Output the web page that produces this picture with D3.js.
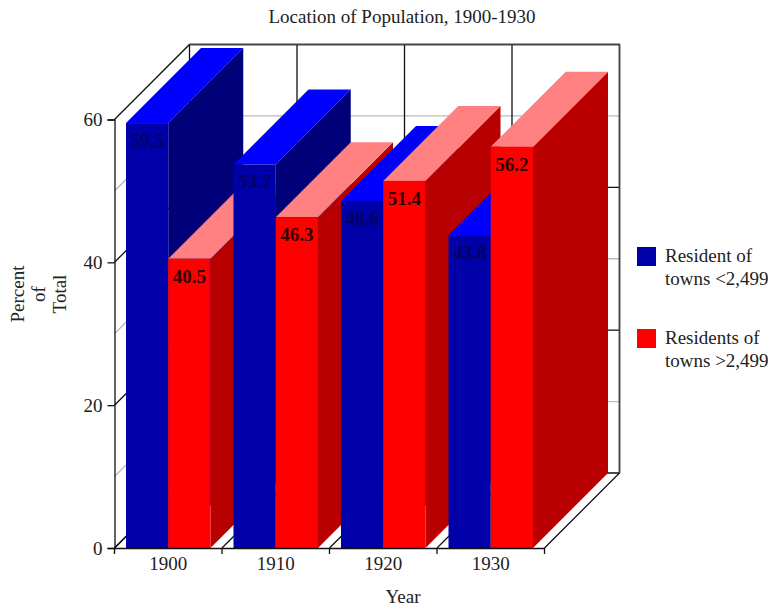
<!DOCTYPE html>
<html>
<head>
<meta charset="utf-8">
<script src="https://d3js.org/d3.v7.min.js"></script>
<style>
html, body { margin: 0; padding: 0; background: #fff; }
text { font-family: "Liberation Serif", serif; fill: #222; }
</style>
</head>
<body>
<svg id="chart" width="768" height="607" style="display:block"></svg>
<script>
const years = ["1900", "1910", "1920", "1930"];
const seriesNames = ["Resident of towns <2,499", "Residents of towns >2,499"];
const smallTowns = [59.5, 53.7, 48.6, 43.8];
const bigTowns = [40.5, 46.3, 51.4, 56.2];
const yTicks = [0, 20, 40, 60];
const yMinorTicks = [10, 30, 50];

const svg = d3.select("#chart");

// front plane of the box, the back wall is the same thing shifted by depth
const plotLeft = 114.5, plotRight = 544.5, plotBottom = 548, plotTop = 119.5;
const depth = 75;
const fontSize = 19;

const x = d3.scaleBand().domain(years).range([plotLeft, plotRight]);
const inner = d3.scaleBand().domain([0, 1]).range([11.5, x.bandwidth() - 11.5]);
const y = d3.scaleLinear().domain([0, 60]).range([plotBottom, plotTop]);

const palette = [
    {front: "#0000a8", top: "#0000ff", side: "#000078"},
    {front: "#ff0000", top: "#ff8080", side: "#b80000"}
];

// walls
const walls = svg.append("g").attr("fill", "none").attr("stroke-width", 1.3);

yMinorTicks.forEach(v => {
    walls.append("path")
        .attr("d", `M${plotLeft},${y(v)}L${plotLeft + depth},${y(v) - depth}H${plotRight + depth}`)
        .attr("stroke", "#bbb");
});
yTicks.forEach(v => {
    walls.append("path")
        .attr("d", `M${plotLeft},${y(v)}L${plotLeft + depth},${y(v) - depth}H${plotRight + depth}`)
        .attr("stroke", "#111");
});
years.concat("end").forEach((d, i) => {
    const px = plotLeft + i * x.bandwidth();
    walls.append("path")
        .attr("d", `M${px},${plotBottom}L${px + depth},${plotBottom - depth}V${plotTop - depth}`)
        .attr("stroke", "#111");
});
walls.append("path")
    .attr("d", `M${plotLeft + depth},${plotTop - depth}H${plotRight + depth}V${plotBottom - depth}`)
    .attr("stroke", "#444").attr("stroke-width", 1.6);

// bars, painted left to right so the nearer side wins
const bars = [];
years.forEach((d, i) => {
    [smallTowns, bigTowns].forEach((vals, s) => bars.push({year: d, value: vals[i], s}));
});

const bar = svg.append("g").selectAll("g").data(bars).join("g");
const bx = d => x(d.year) + inner(d.s);
const bw = inner.bandwidth();

bar.append("path")
    .attr("fill", d => palette[d.s].side)
    .attr("d", d => {
        const x1 = bx(d) + bw;
        return `M${x1},${y(d.value)}l${depth},${-depth}V${plotBottom - depth}L${x1},${plotBottom}Z`;
    });
bar.append("path")
    .attr("fill", d => palette[d.s].top)
    .attr("d", d => `M${bx(d)},${y(d.value)}l${depth},${-depth}h${bw}l${-depth},${depth}Z`);
bar.append("rect")
    .attr("fill", d => palette[d.s].front)
    .attr("x", bx).attr("y", d => y(d.value))
    .attr("width", bw).attr("height", d => plotBottom - y(d.value));
bar.append("text")
    .attr("x", d => bx(d) + bw / 2).attr("y", d => y(d.value) + 24)
    .attr("text-anchor", "middle")
    .attr("font-size", fontSize).attr("font-weight", "bold")
    .style("fill", d => d.s === 0 ? "#000060" : "#300000")
    .text(d => d.value.toFixed(1));

// axes
const axisY = d3.axisLeft(y).tickValues(yTicks).tickSize(7).tickPadding(5);
const axisX = d3.axisBottom(x).tickSize(0).tickPadding(9);

const gy = svg.append("g").attr("transform", `translate(${plotLeft},0)`).call(axisY);
const gx = svg.append("g").attr("transform", `translate(0,${plotBottom})`).call(axisX);
[gy, gx].forEach(g => {
    g.selectAll("text").attr("font-size", fontSize).attr("font-family", null);
    g.selectAll("line,path").attr("stroke", "#111").attr("stroke-width", 1.3);
});
gx.selectAll(".edge").data(years.concat("end")).join("line")
    .attr("class", "edge")
    .attr("x1", (d, i) => plotLeft + i * x.bandwidth())
    .attr("x2", (d, i) => plotLeft + i * x.bandwidth())
    .attr("y1", 0).attr("y2", 6)
    .attr("stroke", "#111").attr("stroke-width", 1.3);

// titles
svg.append("text").attr("x", 402).attr("y", 23)
    .attr("text-anchor", "middle").attr("font-size", fontSize)
    .text("Location of Population, 1900-1930");
svg.append("text").attr("x", 403).attr("y", 603)
    .attr("text-anchor", "middle").attr("font-size", fontSize)
    .text("Year");

const yTitle = [["Percent", 24], ["of", 45], ["Total", 66]];
svg.selectAll(".ytitle").data(yTitle).join("text")
    .attr("class", "ytitle")
    .attr("transform", d => `translate(${d[1]},294) rotate(-90)`)
    .attr("text-anchor", "middle").attr("font-size", fontSize)
    .text(d => d[0]);

// legend
const legend = svg.append("g").selectAll("g").data(seriesNames).join("g")
    .attr("transform", (d, i) => `translate(637,${247 + i * 82})`);
legend.append("rect")
    .attr("width", 19).attr("height", 19)
    .attr("fill", (d, i) => palette[i].front);
legend.each(function(d) {
    const words = d.split(" ");
    const g = d3.select(this);
    g.append("text").attr("x", 28).attr("y", 15).attr("font-size", fontSize).text(words.slice(0, 2).join(" "));
    g.append("text").attr("x", 28).attr("y", 38).attr("font-size", fontSize).text(words.slice(2).join(" "));
});
</script>
</body>
</html>
